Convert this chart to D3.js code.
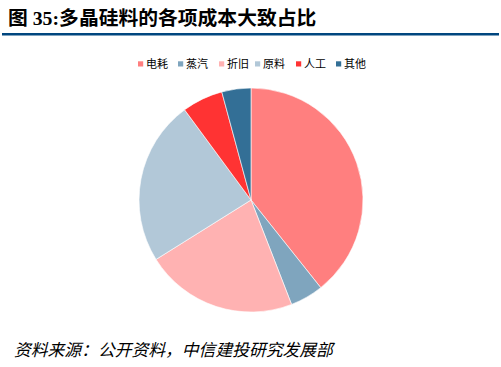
<!DOCTYPE html>
<html>
<head>
<meta charset="utf-8">
<script src="https://cdn.jsdelivr.net/npm/d3@7"></script>
<style>
  html, body { margin: 0; padding: 0; background: #fff; }
  svg { display: block; }
</style>
</head>
<body>
<div id="chart"></div>
<script>
// Cost components of polysilicon production (share, %)
const categories = ["电耗", "蒸汽", "折旧", "原料", "人工", "其他"];
const shares = [39.3, 4.8, 22.0, 23.8, 5.9, 4.2];
const colors = ["#FF7F7F", "#7FA5BE", "#FFB2B2", "#B2C8D8", "#FF3333", "#336F96"];

const W = 501, H = 367;
const svg = d3.select("#chart").append("svg")
  .attr("width", W).attr("height", H);

// Title and rule
svg.append("text")
  .attr("x", 8).attr("y", 25)
  .attr("font-family", "'Liberation Serif', 'Noto Sans CJK SC', serif")
  .attr("font-weight", "bold")
  .attr("font-size", 19.8)
  .attr("fill", "#000")
  .text("图 35:多晶硅料的各项成本大致占比");

svg.append("rect")
  .attr("x", 2).attr("y", 33)
  .attr("width", 497).attr("height", 2.5)
  .attr("fill", "#00467F");

// Legend
const legendX = [138, 178, 219, 255, 296, 336];
const legend = svg.append("g");
categories.forEach((c, i) => {
  const g = legend.append("g").attr("transform", `translate(${legendX[i]},64)`);
  g.append("rect").attr("x", 0).attr("y", -2.7).attr("width", 5.2).attr("height", 5.2)
    .attr("fill", colors[i]);
  g.append("text").attr("x", 8).attr("y", 4)
    .attr("font-family", "'Noto Sans CJK SC', sans-serif")
    .attr("font-size", 11)
    .attr("fill", "#000")
    .text(c);
});

// Pie
const cx = 251, cy = 200, r = 112;
const pie = d3.pie().sort(null).value(d => d)(shares);
const arc = d3.arc().innerRadius(0).outerRadius(r);
const color = d3.scaleOrdinal().domain(categories).range(colors);

svg.append("g")
  .attr("transform", `translate(${cx},${cy})`)
  .selectAll("path")
  .data(pie)
  .join("path")
  .attr("d", arc)
  .attr("fill", (d, i) => color(categories[i]))
  .attr("stroke", "#fff")
  .attr("stroke-width", 0.6);

// Source note
svg.append("text")
  .attr("x", 14).attr("y", 356)
  .attr("font-family", "'Noto Sans CJK SC', sans-serif")
  .attr("font-style", "italic")
  .attr("font-size", 16.8)
  .attr("fill", "#000")
  .text("资料来源：公开资料，中信建投研究发展部");
</script>
</body>
</html>
